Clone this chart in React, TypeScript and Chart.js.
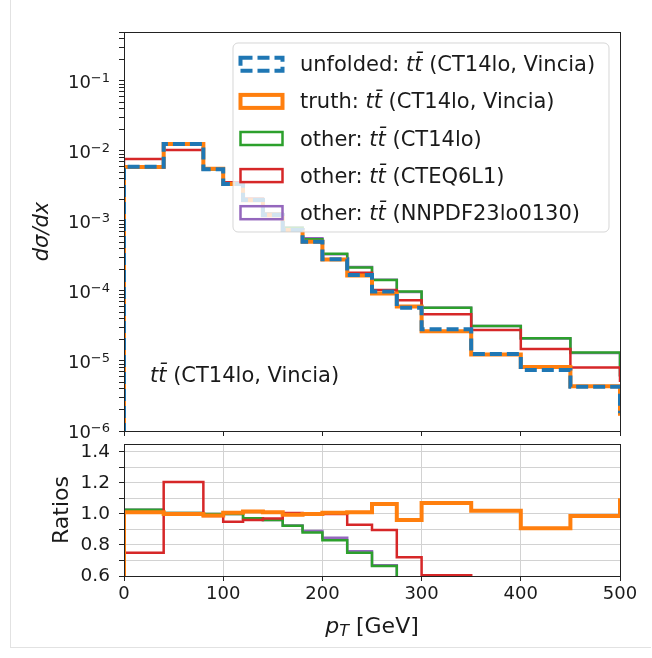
import React, { useEffect, useRef } from "react";
import { Chart, registerables } from "chart.js";

Chart.register(...registerables);

// ---------------- data ----------------
const binEdges = [0, 40, 80, 100, 120, 140, 160, 180, 200, 225, 250, 275, 300, 350, 400, 450, 500];
const overflowEdge = 550; // bin beyond the x range (clipped by the axes)

// dσ/dx per bin (16 bins + overflow bin)
const unfoldedVincia = [5.97e-3, 1.26e-2, 5.5e-3, 3.38e-3, 2.0e-3, 1.22e-3, 7.4e-4, 5.06e-4, 2.84e-4, 1.69e-4, 9.8e-5, 5.77e-5, 2.84e-5, 1.26e-5, 7.43e-6, 4.3e-6, 1.8e-6];
const truthVincia = [5.91e-3, 1.26e-2, 5.56e-3, 3.36e-3, 1.97e-3, 1.21e-3, 7.44e-4, 5.06e-4, 2.82e-4, 1.67e-4, 9.2e-5, 6.0e-5, 2.65e-5, 1.24e-5, 8.2e-6, 4.35e-6, 1.65e-6];
const otherCT14lo = [5.82e-3, 1.25e-2, 5.5e-3, 3.38e-3, 2.06e-3, 1.27e-3, 8.0e-4, 5.5e-4, 3.4e-4, 2.16e-4, 1.44e-4, 9.8e-5, 5.77e-5, 3.16e-5, 2.11e-5, 1.32e-5, 6e-6];
const otherCTEQ6L1 = [7.69e-3, 1.03e-2, 5.57e-3, 3.56e-3, 2.08e-3, 1.26e-3, 7.36e-4, 5.06e-4, 2.84e-4, 1.82e-4, 1.03e-4, 7.4e-5, 4.64e-5, 2.77e-5, 1.48e-5, 8.1e-6, 5e-6];
const otherNNPDF = [5.82e-3, 1.25e-2, 5.5e-3, 3.38e-3, 2.06e-3, 1.27e-3, 7.98e-4, 5.68e-4, 3.35e-4, 2.2e-4, 1.45e-4, 9.7e-5, 5.75e-5, 3.15e-5, 2.1e-5, 1.3e-5, 6e-6];

// ratios (unfolded / each)
const ratioTruth = [1.01, 1.0, 0.99, 1.007, 1.015, 1.01, 0.994, 1.0, 1.007, 1.01, 1.063, 0.96, 1.07, 1.02, 0.908, 0.987, 1.1];
const ratioCT14lo = [1.026, 1.005, 1.0, 1.0, 0.972, 0.96, 0.923, 0.88, 0.83, 0.75, 0.665, 0.59, 0.49, 0.4, 0.35, 0.33, 0.3];
const ratioCTEQ6L1 = [0.75, 1.206, 0.987, 0.95, 0.96, 0.97, 1.005, 1.0, 1.0, 0.93, 0.897, 0.72, 0.605, 0.45, 0.5, 0.53, 0.36];
const ratioNNPDF = [1.026, 1.005, 1.0, 1.0, 0.972, 0.96, 0.925, 0.89, 0.847, 0.76, 0.67, 0.59, 0.49, 0.4, 0.35, 0.33, 0.3];

// ticks
const xTicks = [0, 100, 200, 300, 400, 500];
const logDecades = [-6, -5, -4, -3, -2, -1];
const logMantissas = [1, 2, 3, 4, 5, 6, 7, 8, 9];
const ratioTicks = [0.6, 0.7, 0.8, 0.9, 1.0, 1.1, 1.2, 1.3, 1.4];
const ratioLabelTicks = [0.6, 0.8, 1.0, 1.2, 1.4];

// legend text
const legendPrefixes = ["unfolded: ", "truth: ", "other: ", "other: ", "other: "];
const legendSuffixes = [" (CT14lo, Vincia)", " (CT14lo, Vincia)", " (CT14lo)", " (CTEQ6L1)", " (NNPDF23lo0130)"];
const annotationSuffix = " (CT14lo, Vincia)";

// ---------------- style ----------------
const BLUE = "#1f77b4";
const ORANGE = "#ff7f0e";
const GREEN = "#2ca02c";
const RED = "#d62728";
const PURPLE = "#9467bd";
const FAM = '"DejaVu Sans", sans-serif';
const TXT = "#1a1a1a";
const TTBAR = "tt\u0304";

const legendStyles = [
  { color: BLUE, width: 4, dash: [12, 5] },
  { color: ORANGE, width: 4, dash: [] as number[] },
  { color: GREEN, width: 2.5, dash: [] as number[] },
  { color: RED, width: 2.5, dash: [] as number[] },
  { color: PURPLE, width: 2.5, dash: [] as number[] },
];

function stepPoints(values: number[], floor: number) {
  const pts = [{ x: binEdges[0], y: floor }];
  for (let i = 0; i < binEdges.length - 1; i++) pts.push({ x: binEdges[i], y: values[i] });
  const last = values[values.length - 1];
  pts.push({ x: binEdges[binEdges.length - 1], y: last });
  pts.push({ x: overflowEdge, y: last });
  return pts;
}

function ds(values: number[], floor: number, color: string, width: number, order: number, dash: number[] = []) {
  return {
    data: stepPoints(values, floor),
    borderColor: color,
    backgroundColor: color,
    borderWidth: width,
    borderDash: dash,
    stepped: "before" as const,
    pointRadius: 0,
    tension: 0,
    fill: false,
    clip: 0,
    order,
    borderJoinStyle: "miter" as const,
  };
}

type Part = { t: string; font: string; dy?: number };
function drawRich(ctx: CanvasRenderingContext2D, parts: Part[], x: number, y: number, align: "left" | "center" | "right") {
  ctx.save();
  ctx.textAlign = "left";
  ctx.textBaseline = "alphabetic";
  ctx.fillStyle = TXT;
  let w = 0;
  for (const p of parts) {
    ctx.font = p.font;
    w += ctx.measureText(p.t).width;
  }
  let cx = align === "center" ? x - w / 2 : align === "right" ? x - w : x;
  for (const p of parts) {
    ctx.font = p.font;
    ctx.fillText(p.t, cx, y + (p.dy || 0));
    cx += ctx.measureText(p.t).width;
  }
  ctx.restore();
}

const framePlugin = {
  id: "frame",
  afterDatasetsDraw(chart: any) {
    const { ctx, chartArea: a } = chart;
    ctx.save();
    ctx.strokeStyle = "#222";
    ctx.lineWidth = 1;
    ctx.setLineDash([]);
    ctx.strokeRect(a.left + 0.5, a.top + 0.5, a.right - a.left, a.bottom - a.top);
    ctx.restore();
  },
};

const topDecorPlugin = {
  id: "topDecor",
  afterDraw(chart: any) {
    const ctx: CanvasRenderingContext2D = chart.ctx;
    // decade labels of the log axis, written as 10 with a raised exponent
    const ys = chart.scales.y;
    for (const k of logDecades) {
      const py = ys.getPixelForValue(Number(`1e${k}`));
      drawRich(ctx, [
        { t: "10", font: `18px ${FAM}`, dy: 7 },
        { t: "\u2212" + Math.abs(k), font: `13px ${FAM}`, dy: 1 },
      ], 110, py, "right");
    }
    // legend frame
    const lx = 233, ly = 43, lw = 376, lh = 189, r = 5;
    ctx.save();
    ctx.beginPath();
    ctx.moveTo(lx + r, ly);
    ctx.arcTo(lx + lw, ly, lx + lw, ly + lh, r);
    ctx.arcTo(lx + lw, ly + lh, lx, ly + lh, r);
    ctx.arcTo(lx, ly + lh, lx, ly, r);
    ctx.arcTo(lx, ly, lx + lw, ly, r);
    ctx.closePath();
    ctx.fillStyle = "rgba(255,255,255,0.8)";
    ctx.fill();
    ctx.strokeStyle = "rgba(204,204,204,0.8)";
    ctx.lineWidth = 1;
    ctx.stroke();
    ctx.restore();
    const reg = `21px ${FAM}`;
    const ita = `italic 21px ${FAM}`;
    for (let i = 0; i < legendPrefixes.length; i++) {
      const cy = 64.3 + i * 37.1;
      const st = legendStyles[i];
      ctx.save();
      ctx.strokeStyle = st.color;
      ctx.lineWidth = st.width;
      ctx.setLineDash(st.dash);
      ctx.lineJoin = "miter";
      ctx.strokeRect(240.5, cy - 6.5, 42, 13);
      ctx.restore();
      drawRich(ctx, [
        { t: legendPrefixes[i], font: reg },
        { t: TTBAR, font: ita },
        { t: legendSuffixes[i], font: reg },
      ], 300, cy + 7, "left");
    }
    // annotation
    drawRich(ctx, [
      { t: TTBAR, font: ita },
      { t: annotationSuffix, font: reg },
    ], 150, 382, "left");
  },
};

const bottomDecorPlugin = {
  id: "bottomDecor",
  afterDraw(chart: any) {
    const ctx: CanvasRenderingContext2D = chart.ctx;
    const a = chart.chartArea;
    drawRich(ctx, [
      { t: "p", font: `italic 22px ${FAM}` },
      { t: "T", font: `italic 16px ${FAM}`, dy: 3 },
      { t: " [GeV]", font: `22px ${FAM}` },
    ], (a.left + a.right) / 2, 633, "center");
  },
};

function topConfig(): any {
  const logTicks: number[] = [];
  for (const k of logDecades) for (const m of logMantissas) {
    const v = Number(`${m}e${k}`);
    if (v <= 0.5) logTicks.push(v);
  }
  const floor = 1e-8;
  return {
    type: "line",
    data: {
      datasets: [
        ds(unfoldedVincia, floor, BLUE, 4, 0, [12, 5]),
        ds(truthVincia, floor, ORANGE, 4, 1),
        ds(otherCTEQ6L1, floor, RED, 2.5, 2),
        ds(otherCT14lo, floor, GREEN, 2.5, 3),
        ds(otherNNPDF, floor, PURPLE, 2.5, 4),
      ],
    },
    options: {
      responsive: false,
      animation: false,
      events: [],
      layout: { padding: { left: 0, top: 32, right: 32, bottom: 213 } },
      plugins: { legend: { display: false }, tooltip: { enabled: false } },
      scales: {
        x: {
          type: "linear",
          min: 0,
          max: 500,
          afterBuildTicks: (s: any) => { s.ticks = xTicks.map((v) => ({ value: v })); },
          ticks: { display: false },
          grid: { drawOnChartArea: false, drawTicks: true, tickLength: 5, tickColor: "#222" },
          border: { display: false },
          afterFit: (s: any) => { s.height = 14; },
        },
        y: {
          type: "logarithmic",
          min: 1e-6,
          max: 0.5,
          afterBuildTicks: (s: any) => { s.ticks = logTicks.map((v) => ({ value: v })); },
          ticks: {
            autoSkip: false,
            padding: 9,
            color: TXT,
            font: { family: FAM, size: 18 },
            callback: () => "",
          },
          grid: { drawOnChartArea: false, drawTicks: true, tickLength: 5, tickColor: "#222" },
          border: { display: false },
          title: {
            display: true,
            text: "dσ/dx",
            color: TXT,
            font: { family: FAM, size: 21, style: "italic" },
            padding: { top: 30, bottom: 0 },
          },
          afterFit: (s: any) => { s.width = 124; },
        },
      },
    },
    plugins: [framePlugin, topDecorPlugin],
  };
}

function bottomConfig(): any {
  const floor = 0;
  return {
    type: "line",
    data: {
      datasets: [
        ds(ratioTruth, floor, ORANGE, 4, 0),
        ds(ratioCTEQ6L1, floor, RED, 2.5, 1),
        ds(ratioCT14lo, floor, GREEN, 2.5, 2),
        ds(ratioNNPDF, floor, PURPLE, 2.5, 3),
      ],
    },
    options: {
      responsive: false,
      animation: false,
      events: [],
      layout: { padding: { left: 0, top: 444, right: 32, bottom: 52 } },
      plugins: { legend: { display: false }, tooltip: { enabled: false } },
      scales: {
        x: {
          type: "linear",
          min: 0,
          max: 500,
          afterBuildTicks: (s: any) => { s.ticks = xTicks.map((v) => ({ value: v })); },
          ticks: { padding: 3, color: TXT, font: { family: FAM, size: 18 }, maxRotation: 0, autoSkip: false, callback: (v: number) => String(v) },
          grid: { drawOnChartArea: true, color: "#d2d2d2", lineWidth: 1, drawTicks: true, tickLength: 5, tickColor: "#222" },
          border: { display: false },
          afterFit: (s: any) => { s.height = 30; },
        },
        y: {
          type: "linear",
          min: 0.6,
          max: 1.45,
          afterBuildTicks: (s: any) => { s.ticks = ratioTicks.map((v) => ({ value: v })); },
          ticks: {
            autoSkip: false,
            padding: 9,
            color: TXT,
            font: { family: FAM, size: 18.5 },
            callback: (v: number) => (ratioLabelTicks.some((t) => Math.abs(t - v) < 1e-6) ? v.toFixed(1) : ""),
          },
          grid: { drawOnChartArea: true, color: "#d2d2d2", lineWidth: 1, drawTicks: true, tickLength: 5, tickColor: "#222" },
          border: { display: false },
          title: {
            display: true,
            text: "Ratios",
            color: TXT,
            font: { family: FAM, size: 22 },
            padding: { top: 49, bottom: 0 },
          },
          afterFit: (s: any) => { s.width = 124; },
        },
      },
    },
    plugins: [framePlugin, bottomDecorPlugin],
  };
}

export default function App() {
  const topRef = useRef<HTMLCanvasElement>(null);
  const botRef = useRef<HTMLCanvasElement>(null);
  useEffect(() => {
    const top = new Chart(topRef.current as HTMLCanvasElement, topConfig());
    const bot = new Chart(botRef.current as HTMLCanvasElement, bottomConfig());
    return () => {
      top.destroy();
      bot.destroy();
    };
  }, []);
  const cstyle: React.CSSProperties = { position: "absolute", left: 0, top: 0, width: 652, height: 658 };
  return (
    <div style={{ position: "absolute", left: 0, top: 0, width: 652, height: 658, background: "#fff" }}>
      <div style={{ position: "absolute", left: 10, top: 0, width: 640, height: 647, borderLeft: "1px solid #e2e2e2", borderBottom: "1px solid #e2e2e2" }} />
      <canvas ref={botRef} width={652} height={658} style={cstyle} />
      <canvas ref={topRef} width={652} height={658} style={cstyle} />
    </div>
  );
}
